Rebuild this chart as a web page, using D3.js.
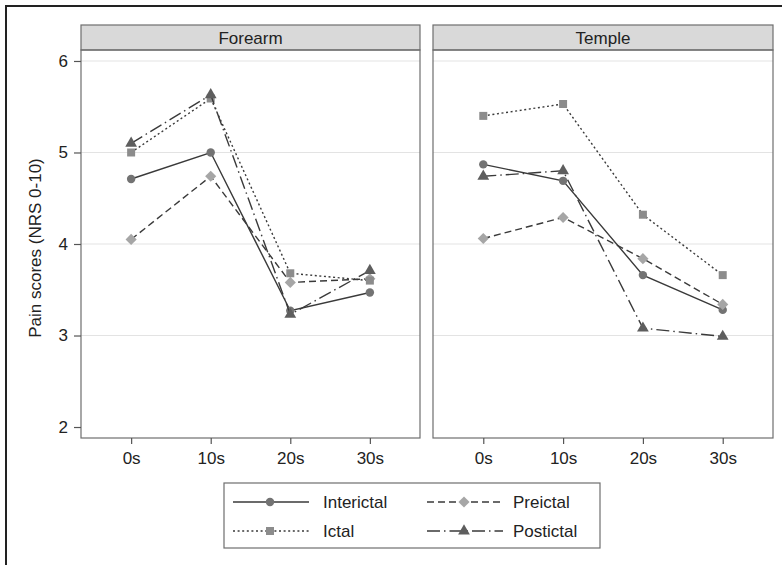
<!DOCTYPE html>
<html>
<head>
<meta charset="utf-8">
<script src="https://cdn.jsdelivr.net/npm/d3@7"></script>
<style>
  html, body { margin: 0; padding: 0; background: #fff; }
  svg { display: block; font-family: "Liberation Sans", Arial, sans-serif; }
</style>
</head>
<body>
<svg id="chart" width="782" height="565"></svg>
<script>
// Time points and panels
const timePoints = ["0s", "10s", "20s", "30s"];
const panels = ["Forearm", "Temple"];
const yTicks = [2, 3, 4, 5, 6];
const gridValues = [3, 4, 5, 6];

// Mean pain scores (NRS 0-10) per phase, [Forearm, Temple]
const interictal = [[4.71, 5.00, 3.27, 3.47], [4.87, 4.69, 3.66, 3.28]];
const preictal   = [[4.05, 4.74, 3.58, 3.62], [4.06, 4.29, 3.84, 3.34]];
const ictal      = [[5.00, 5.59, 3.68, 3.60], [5.40, 5.53, 4.32, 3.66]];
const postictal  = [[5.10, 5.63, 3.23, 3.71], [4.74, 4.80, 3.08, 2.99]];

const seriesNames = ["Interictal", "Preictal", "Ictal", "Postictal"];
const seriesValues = [interictal, preictal, ictal, postictal];

const FS = 17;
const styles = {
  Interictal: { dash: null,         marker: d3.symbolCircle,   size: 56, rot: 0,  fill: "#737373", line: "#3a3a3a" },
  Preictal:   { dash: "7,4",        marker: d3.symbolSquare,   size: 62, rot: 45, fill: "#a6a6a6", line: "#3a3a3a" },
  Ictal:      { dash: "2,2.6",      marker: d3.symbolSquare,   size: 64, rot: 0,  fill: "#8c8c8c", line: "#3a3a3a" },
  Postictal:  { dash: "13,4,1.5,4", marker: d3.symbolTriangle, size: 60, rot: 0,  fill: "#5e5e5e", line: "#3a3a3a" }
};

const svg = d3.select("#chart");

// outer frame
svg.append("rect")
  .attr("x", 6).attr("y", 6).attr("width", 790).attr("height", 570)
  .attr("fill", "none").attr("stroke", "#222").attr("stroke-width", 2);

const plotTop = 50, plotBottom = 438, stripTop = 25;
const panelX = [[81, 420], [433, 773]];

const y = d3.scaleLinear().domain([1.88, 6.12]).range([plotBottom, plotTop]);

panels.forEach((name, pi) => {
  const [x0, x1] = panelX[pi];
  const x = d3.scalePoint().domain(timePoints).range([x0, x1]).padding(0.63);
  const g = svg.append("g");

  // strip
  g.append("rect")
    .attr("x", x0).attr("y", stripTop).attr("width", x1 - x0).attr("height", plotTop - stripTop)
    .attr("fill", "#d9d9d9").attr("stroke", "#6e6e6e").attr("stroke-width", 1.2);
  g.append("text")
    .attr("x", (x0 + x1) / 2).attr("y", (stripTop + plotTop) / 2 + 6)
    .attr("text-anchor", "middle").attr("font-size", FS).attr("fill", "#222")
    .text(name);

  // grid
  g.selectAll("line.grid").data(gridValues).join("line")
    .attr("class", "grid")
    .attr("x1", x0).attr("x2", x1)
    .attr("y1", d => y(d)).attr("y2", d => y(d))
    .attr("stroke", "#e3e3e3").attr("stroke-width", 1.2);

  // panel border
  g.append("rect")
    .attr("x", x0).attr("y", plotTop).attr("width", x1 - x0).attr("height", plotBottom - plotTop)
    .attr("fill", "none").attr("stroke", "#6e6e6e").attr("stroke-width", 1.2);

  // x axis
  const xAxis = g.append("g").attr("transform", `translate(0,${plotBottom})`)
    .call(d3.axisBottom(x).tickSize(6).tickPadding(8));
  xAxis.attr("font-size", FS).attr("font-family", null);
  xAxis.select(".domain").remove();
  xAxis.selectAll(".tick line").attr("stroke", "#555").attr("stroke-width", 1.2);
  xAxis.selectAll(".tick text").attr("fill", "#222");

  // y axis on first panel
  if (pi === 0) {
    const yAxis = g.append("g").attr("transform", `translate(${x0},0)`)
      .call(d3.axisLeft(y).tickValues(yTicks).tickFormat(d3.format("d")).tickSize(7).tickPadding(6));
    yAxis.attr("font-size", FS).attr("font-family", null);
    yAxis.select(".domain").remove();
    yAxis.selectAll(".tick line").attr("stroke", "#555").attr("stroke-width", 1.2);
    yAxis.selectAll(".tick text").attr("fill", "#222");
  }

  // series
  const line = d3.line().x((d, i) => x(timePoints[i])).y(d => y(d));
  seriesNames.forEach((s, si) => {
    const vals = seriesValues[si][pi];
    const st = styles[s];
    g.append("path")
      .datum(vals)
      .attr("d", line)
      .attr("fill", "none")
      .attr("stroke", st.line)
      .attr("stroke-width", 1.4)
      .attr("stroke-dasharray", st.dash);
    g.selectAll(null).data(vals).join("path")
      .attr("transform", (d, i) => `translate(${x(timePoints[i])},${y(d)}) rotate(${st.rot})`)
      .attr("d", d3.symbol().type(st.marker).size(st.size))
      .attr("fill", st.fill);
  });
});

// y label
svg.append("text")
  .attr("transform", `translate(41,${(plotTop + plotBottom) / 2 + 4}) rotate(-90)`)
  .attr("text-anchor", "middle").attr("font-size", FS).attr("fill", "#222")
  .text("Pain scores (NRS 0-10)");

// legend
const lg = svg.append("g");
lg.append("rect")
  .attr("x", 224).attr("y", 483).attr("width", 376).attr("height", 65)
  .attr("fill", "#fff").attr("stroke", "#6e6e6e").attr("stroke-width", 1.2);
const legendPos = [
  { s: "Interictal", x: 233, y: 502, tx: 323 },
  { s: "Preictal",   x: 427, y: 502, tx: 513 },
  { s: "Ictal",      x: 233, y: 531, tx: 323 },
  { s: "Postictal",  x: 427, y: 531, tx: 513 }
];
legendPos.forEach(p => {
  const st = styles[p.s];
  lg.append("line")
    .attr("x1", p.x).attr("x2", p.x + 76).attr("y1", p.y).attr("y2", p.y)
    .attr("stroke", st.line).attr("stroke-width", 1.4).attr("stroke-dasharray", st.dash);
  lg.append("path")
    .attr("transform", `translate(${p.x + 37},${p.y}) rotate(${st.rot})`)
    .attr("d", d3.symbol().type(st.marker).size(st.size))
    .attr("fill", st.fill);
  lg.append("text")
    .attr("x", p.tx).attr("y", p.y + 6)
    .attr("font-size", FS).attr("fill", "#222")
    .text(p.s);
});
</script>
</body>
</html>
